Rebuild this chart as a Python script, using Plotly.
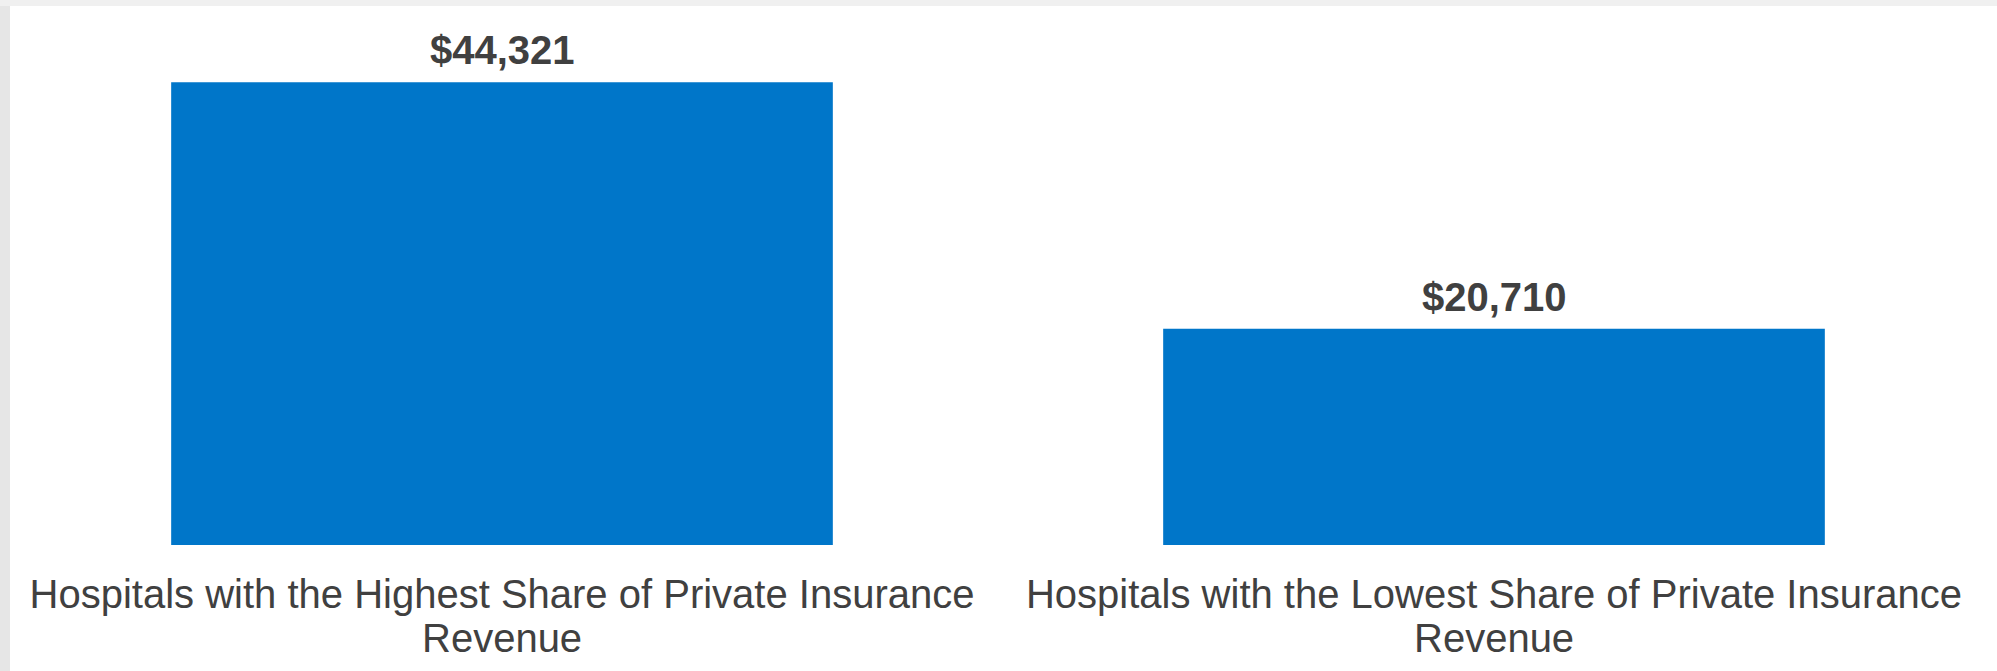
import plotly.graph_objects as go

categories = [
    "Hospitals with the Highest Share of Private Insurance",
    "Hospitals with the Lowest Share of Private Insurance",
]
second_lines = ["Revenue", "Revenue"]
values = [44321, 20710]
labels = ["$44,321", "$20,710"]

BAR = "#0076C9"
TXT = "#404040"
FONT = "Liberation Sans, Arial, sans-serif"

fig = go.Figure(
    go.Bar(
        x=categories,
        y=values,
        marker=dict(color=BAR, line=dict(width=0)),
        cliponaxis=False,
        width=0.667,
    )
)

for c, v, lab in zip(categories, values, labels):
    fig.add_annotation(x=c, y=v, xref="x", yref="y", text=lab, showarrow=False,
                       yanchor="bottom", yshift=8,
                       font=dict(family=FONT, size=40, color=TXT, weight="bold"))

for c, s in zip(categories, second_lines):
    fig.add_annotation(x=c, y=0, xref="x", yref="paper", text=s, showarrow=False,
                       yanchor="top", yshift=-69,
                       font=dict(family=FONT, size=40, color=TXT))

fig.update_layout(
    width=1997,
    height=671,
    margin=dict(l=6, r=7, t=23, b=126),
    paper_bgcolor="white",
    plot_bgcolor="white",
    showlegend=False,
    font=dict(family=FONT, size=40, color=TXT),
    xaxis=dict(showgrid=False, showline=False, zeroline=False, ticks="",
               ticklabelstandoff=22,
               tickfont=dict(family=FONT, size=40, color=TXT)),
    yaxis=dict(range=[0, 50000], visible=False, showgrid=False, zeroline=False),
    shapes=[
        dict(type="rect", xref="paper", yref="paper", x0=-6/1984, x1=4/1984,
             y0=-126/522, y1=(522+23)/522, fillcolor="#e6e6e6", line=dict(width=0), layer="above"),
        dict(type="rect", xref="paper", yref="paper", x0=-6/1984, x1=1991/1984,
             y0=(522+17)/522, y1=(522+23)/522, fillcolor="#f0f0f0", line=dict(width=0), layer="above"),
    ],
)

fig.write_html("out.html")
